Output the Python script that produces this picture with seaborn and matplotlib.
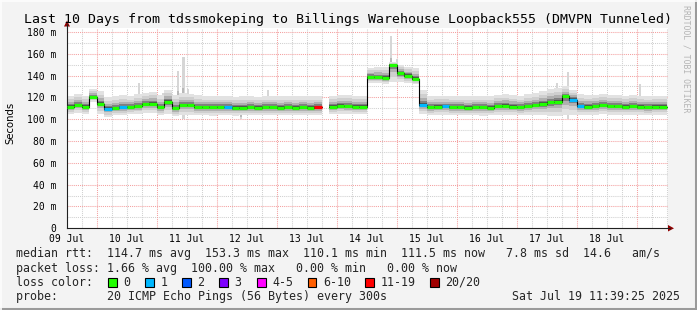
import numpy as np
import pandas as pd
import matplotlib
matplotlib.use("Agg")
import matplotlib.pyplot as plt
import seaborn as sns
from matplotlib.patches import Rectangle, Polygon

# ---------------- data ----------------
title = "Last 10 Days from tdssmokeping to Billings Warehouse Loopback555 (DMVPN Tunneled)"
start_day = 9.5          # Jul 9, 12:00
step_days = 0.125        # 3-hour buckets

median = [111.5, 113, 111.5, 120, 114, 109.5, 110, 111, 111, 112,
          114, 114, 111, 116, 110, 113, 113, 111, 111, 111,
          111, 111, 110.5, 110.5, 111, 110.5, 111, 111, 110.5, 111,
          110.5, 111, 110.5, 111, np.nan, 111.5, 112.5, 112, 111.5, 111.5,
          139, 138.5, 138, 150, 142, 140, 137, 113, 111, 111.5,
          112, 111, 111, 110.5, 111, 111, 110.5, 112, 112.5, 111.5,
          111, 112, 113, 114, 115.5, 116, 121, 118, 112, 111.5,
          112, 113, 112, 112, 111.5, 112, 111.5, 111, 111.5, 111.5]
lo = [105, 106, 105, 116, 105, 102, 104, 104, 105, 105,
      106, 106, 104, 105, 103, 104, 104, 104, 104, 103,
      104, 104, 103, 104, 104, 104, 104, 104, 104, 104,
      104, 104, 104, 104, np.nan, 105, 105, 105, 105, 105,
      133, 133, 132, 134, 134, 133, 132, 105, 104, 104,
      104, 104, 104, 104, 104, 103, 104, 104, 104, 104,
      104, 104, 104, 104, 103, 103, 104, 104, 104, 104,
      104, 105, 104, 104, 104, 104, 104, 104, 104, 104]
hi = [121, 123, 121, 128, 126, 120, 121, 122, 121, 123,
      124, 125, 122, 127, 122, 124, 123, 122, 121, 121,
      121, 121, 120, 121, 121, 120, 121, 121, 121, 121,
      121, 121, 121, 121, np.nan, 121, 122, 122, 121, 121,
      147, 148, 148, 152, 150, 148, 147, 127, 121, 121,
      121, 121, 121, 121, 121, 121, 121, 122, 123, 122,
      121, 123, 124, 126, 128, 129, 130, 127, 123, 122,
      122, 123, 122, 122, 121, 122, 121, 121, 121, 121]
loss = [0, 0, 0, 0, 0, 1, 0, 1, 0, 0,
        0, 0, 0, 0, 0, 0, 0, 0, 0, 0,
        0, 1, 0, 0, 0, 0, 0, 0, 0, 0,
        0, 0, 0, 12, 20, 0, 0, 0, 0, 0,
        0, 0, 0, 0, 0, 0, 0, 1, 0, 0,
        1, 0, 0, 0, 0, 0, 0, 0, 0, 0,
        0, 0, 0, 0, 0, 0, 0, 1, 1, 0,
        0, 0, 0, 0, 0, 0, 0, 0, 0, 0]

# isolated smoke spikes (day, low, high)
spike_t = [10.70, 11.10, 11.35, 11.44, 11.52, 12.40, 12.85, 14.90, 15.00, 17.67, 17.85, 19.05]
spike_lo = [110, 112, 108, 100, 110, 100, 112, 136, 136, 104, 100, 110]
spike_hi = [133, 124, 144, 157, 128, 115, 127, 176, 155, 133, 143, 132]

day_labels = ["09 Jul", "10 Jul", "11 Jul", "12 Jul", "13 Jul",
              "14 Jul", "15 Jul", "16 Jul", "17 Jul", "18 Jul"]
y_ticks = [0, 20, 40, 60, 80, 100, 120, 140, 160, 180]

loss_bins = [0, 1, 2, 3, 4, 6, 11, 20]
loss_names = ["0", "1", "2", "3", "4-5", "6-10", "11-19", "20/20"]
loss_colors = ["#20ff00", "#00b8ff", "#0059ff", "#7e00ff", "#ff00ff", "#ff5e00", "#ff0000", "#a10000"]

rtt_row = "median rtt:  114.7 ms avg  153.3 ms max  110.1 ms min  111.5 ms now   7.8 ms sd  14.6   am/s"
loss_row = "packet loss: 1.66 % avg  100.00 % max   0.00 % min   0.00 % now"
probe_row = "probe:       20 ICMP Echo Pings (56 Bytes) every 300s"
stamp = "Sat Jul 19 11:39:25 2025"

# ---------------- style ----------------
sns.set_theme(style="white")
mono = ["DejaVu Sans Mono"]
plt.rcParams["font.family"] = mono

W, H = 697, 310
fig = plt.figure(figsize=(W / 100, H / 100), dpi=100, facecolor="#f3f3f3")

def fx(x):
    return x / W

def fy(y):
    return 1 - y / H

ax_left, ax_right, ax_top, ax_bot = 67, 668, 27.5, 228.3
ax = fig.add_axes([fx(ax_left), fy(ax_bot), (ax_right - ax_left) / W, (ax_bot - ax_top) / H])
ax.set_facecolor("white")
ax.set_xlim(9.5, 19.52)
ax.set_ylim(0, 184)

# grid
dot = (0, (1, 1))
for v in range(10, 190, 10):
    if v % 20:
        ax.axhline(v, color="#d0d0d0", lw=0.75, ls=dot, zorder=0)
for k in range(0, 40):
    dd = 9.75 + 0.25 * k
    if abs(dd - round(dd)) > 1e-6 and dd < 19.52:
        ax.axvline(dd, color="#d0d0d0", lw=0.75, ls=dot, zorder=0)
for v in range(20, 190, 20):
    ax.axhline(v, color="#f4a0a0", lw=0.75, ls=dot, zorder=0.5)
for d in range(10, 20):
    ax.axvline(d, color="#f4a0a0", lw=0.75, ls=dot, zorder=0.5)

# smoke
times = start_day + step_days * np.arange(len(median))
med = np.array(median, float)
lo_a = np.array(lo, float)
hi_a = np.array(hi, float)
s_lo = np.array(spike_lo, float)
s_hi = np.array(spike_hi, float)

ax.bar(spike_t, s_hi - s_lo, bottom=s_lo, width=0.04, color="#d6d6d6", linewidth=0, zorder=1)
ax.bar(spike_t, (s_hi - s_lo) * 0.35, bottom=s_lo + (s_hi - s_lo) * 0.15,
       width=0.03, color="#b8b8b8", linewidth=0, zorder=1.1)

bands = [(1.0, "#e2e2e2"), (0.7, "#cfcfcf"), (0.45, "#b0b0b0"), (0.25, "#808080"), (0.12, "#505050")]
for z, (f, c) in enumerate(bands):
    b = med - (med - lo_a) * f
    t = med + (hi_a - med) * f
    ax.bar(times, t - b, bottom=b, width=step_days, align="edge", color=c,
           linewidth=0, zorder=1.2 + z * 0.1)

# median line (black steps) via seaborn
valid = ~np.isnan(med)
seg = np.cumsum(~valid)
rows = []
for s in np.unique(seg[valid]):
    idx = np.where(valid & (seg == s))[0]
    for i in idx:
        rows.append((times[i], med[i], s))
    rows.append((times[idx[-1]] + step_days, med[idx[-1]], s))
df = pd.DataFrame(rows, columns=["t", "v", "seg"])
sns.lineplot(data=df, x="t", y="v", units="seg", estimator=None, color="black",
             lw=0.8, drawstyle="steps-post", ax=ax, zorder=3, legend=False)

def loss_color(n):
    c = loss_colors[0]
    for b, col in zip(loss_bins, loss_colors):
        if n >= b:
            c = col
    return c

cols = [loss_color(n) for n in np.array(loss)[valid]]
ax.hlines(med[valid], times[valid], times[valid] + step_days, colors=cols, lw=2.3, zorder=4)

# axes styling
for s in ["top", "right"]:
    ax.spines[s].set_visible(False)
for s in ["left", "bottom"]:
    ax.spines[s].set_color("#202020")
    ax.spines[s].set_linewidth(0.8)
ax.set_yticks(y_ticks)
ax.set_yticklabels([f"{v} m" if v else "0" for v in y_ticks])
ax.set_yticks(range(10, 190, 20), minor=True)
ax.set_xticks([9.5 + i for i in range(10)])
ax.set_xticklabels(day_labels)
ax.set_xticks([d for d in np.arange(9.75, 19.52, 0.25)], minor=True)
ax.tick_params(axis="y", which="major", length=3, width=0.8, color="#202020", pad=4.5, labelsize=7, labelcolor="black")
ax.tick_params(axis="y", which="minor", length=2, width=0.8, color="#202020")
ax.tick_params(axis="x", which="major", length=0, pad=4.2, labelsize=7, labelcolor="black")
ax.tick_params(axis="x", which="minor", length=2, width=0.8, color="#202020")
ax.set_xlabel("")
ax.set_ylabel("")

# axis extensions + arrows (figure pixel coords)
fig.add_artist(plt.Line2D([fx(ax_left), fx(ax_left)], [fy(ax_top), fy(24)], color="#202020", lw=0.8, transform=fig.transFigure))
fig.add_artist(plt.Line2D([fx(ax_right), fx(670)], [fy(ax_bot), fy(ax_bot)], color="#202020", lw=0.8, transform=fig.transFigure))
fig.add_artist(Polygon([[fx(64), fy(26.5)], [fx(70), fy(26.5)], [fx(67), fy(20.5)]], closed=True,
                       color="#900000", transform=fig.transFigure, lw=0))
fig.add_artist(Polygon([[fx(668), fy(225)], [fx(668), fy(231.5)], [fx(674), fy(228.3)]], closed=True,
                       color="#900000", transform=fig.transFigure, lw=0))

# title and labels
fig.text(fx(24), fy(19.5), title, fontsize=9.55, va="center", ha="left", color="black")
fig.text(fx(10.5), fy(122.5), "Seconds", rotation=90, fontsize=7.3, va="center", ha="center",
         family=["DejaVu Sans"], color="black")
fig.text(fx(686), fy(5), "RRDTOOL / TOBI OETIKER", rotation=270, fontsize=5.9, va="top", ha="center",
         color="#b4b4b4")

LS = 8.4
row_y = [254, 268.3, 282.3, 296.7]
fig.text(fx(16), fy(row_y[0]), rtt_row, fontsize=LS, va="center")
fig.text(fx(16), fy(row_y[1]), loss_row, fontsize=LS, va="center")
fig.text(fx(16), fy(row_y[2]), "loss color:", fontsize=LS, va="center")
for xp, name, col in zip([108, 145, 182, 219, 257, 307.5, 365, 430], loss_names, loss_colors):
    fig.add_artist(Rectangle((fx(xp), fy(286.8)), 8.5 / W, 9 / H, transform=fig.transFigure,
                             facecolor=col, edgecolor="black", lw=0.8))
    fig.text(fx(xp + 15.3), fy(row_y[2]), name, fontsize=LS, va="center")
fig.text(fx(16), fy(row_y[3]), probe_row, fontsize=LS, va="center")
fig.text(fx(680), fy(row_y[3]), stamp, fontsize=LS, va="center", ha="right")

# 3D frame
fig.add_artist(plt.Line2D([fx(695.5), fx(695.5)], [0, 1], color="#9a9a9a", lw=2.2, transform=fig.transFigure))
fig.add_artist(plt.Line2D([0, 1], [fy(308.5), fy(308.5)], color="#9a9a9a", lw=2.2, transform=fig.transFigure))
fig.add_artist(plt.Line2D([fx(0.7), fx(0.7)], [0, 1], color="#fdfdfd", lw=1.2, transform=fig.transFigure))
fig.add_artist(plt.Line2D([0, 1], [fy(0.7), fy(0.7)], color="#fdfdfd", lw=1.2, transform=fig.transFigure))

fig.savefig("out.png", dpi=100, facecolor=fig.get_facecolor())
